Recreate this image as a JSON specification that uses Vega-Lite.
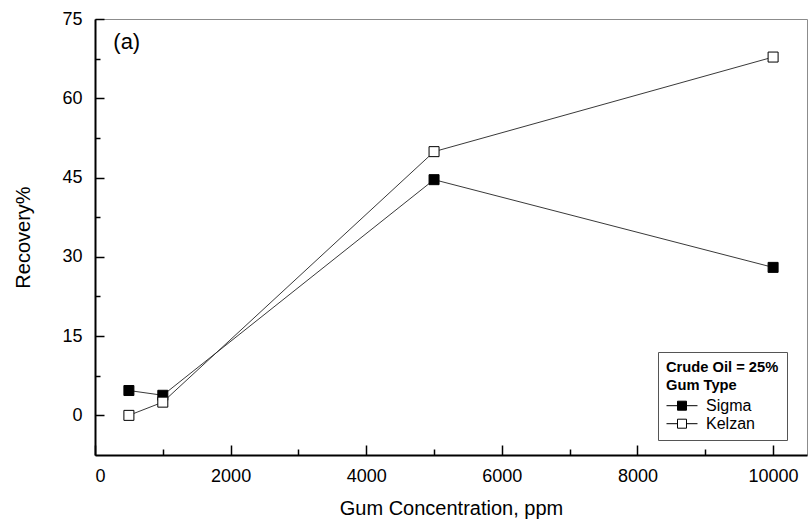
{
  "$schema": "https://vega.github.io/schema/vega-lite/v6.json",
  "width": 712,
  "height": 436,
  "autosize": "none",
  "padding": {"left": 95, "top": 19, "right": 2, "bottom": 70},
  "background": "white",
  "config": {
    "font": "Liberation Sans",
    "view": {"stroke": "#8c8c8c", "strokeWidth": 1}
  },
  "datasets": {
    "pts": [
      {"conc": 500, "rec": 4.7, "gum": "Sigma"},
      {"conc": 1000, "rec": 3.8, "gum": "Sigma"},
      {"conc": 5000, "rec": 44.6, "gum": "Sigma"},
      {"conc": 10000, "rec": 28.0, "gum": "Sigma"},
      {"conc": 500, "rec": 0.0, "gum": "Kelzan"},
      {"conc": 1000, "rec": 2.5, "gum": "Kelzan"},
      {"conc": 5000, "rec": 49.9, "gum": "Kelzan"},
      {"conc": 10000, "rec": 67.8, "gum": "Kelzan"}
    ],
    "note": [{"conc": 270, "rec": 70.6, "label": "(a)"}]
  },
  "layer": [
    {
      "data": {"name": "pts"},
      "mark": {"type": "line", "color": "#222", "strokeWidth": 0.9},
      "encoding": {
        "x": {
          "field": "conc", "type": "quantitative",
          "scale": {"domain": [0, 10500], "nice": false, "zero": false},
          "axis": {
            "title": "Gum Concentration, ppm",
            "values": [0, 1000, 2000, 3000, 4000, 5000, 6000, 7000, 8000, 9000, 10000],
            "format": "d",
            "labelExpr": "datum.value % 2000 == 0 ? datum.label : ''",
            "grid": false,
            "domainColor": "black", "domainWidth": 2,
            "tickColor": "black", "tickWidth": 1.5,
            "tickSize": {"condition": {"test": "datum.value % 2000 == 0", "value": -10}, "value": -6},
            "labelFontSize": 18, "labelColor": "black", "labelPadding": 22,
            "titleFontSize": 20, "titleFontWeight": "normal", "titleColor": "black", "titlePadding": 13
          }
        },
        "y": {
          "field": "rec", "type": "quantitative",
          "scale": {"domain": [-7.5, 75], "nice": false, "zero": false},
          "axis": {
            "title": "Recovery%",
            "values": [0, 7.5, 15, 22.5, 30, 37.5, 45, 52.5, 60, 67.5, 75],
            "labelExpr": "datum.value % 15 == 0 ? datum.label : ''",
            "grid": false,
            "domainColor": "black", "domainWidth": 2,
            "tickColor": "black", "tickWidth": 1.5,
            "tickSize": {"condition": {"test": "datum.value % 15 == 0", "value": -9}, "value": -5},
            "labelFontSize": 18, "labelColor": "black", "labelPadding": 22,
            "titleFontSize": 20, "titleFontWeight": "normal", "titleColor": "black", "titlePadding": 28
          }
        },
        "detail": {"field": "gum"}
      }
    },
    {
      "data": {"name": "pts"},
      "mark": {"type": "point", "shape": "square", "size": 100, "stroke": "black", "strokeWidth": 1, "opacity": 1, "fillOpacity": 1},
      "encoding": {
        "x": {"field": "conc", "type": "quantitative"},
        "y": {"field": "rec", "type": "quantitative"},
        "fill": {
          "field": "gum", "type": "nominal",
          "scale": {"domain": ["Sigma", "Kelzan"], "range": ["black", "white"]},
          "legend": {
            "title": ["Crude Oil = 25%", "Gum Type"],
            "orient": "none", "legendX": 563, "legendY": 333,
            "strokeColor": "#555", "fillColor": "white", "padding": 8,
            "titleFontSize": 14.7, "titleFontWeight": "bold", "titleColor": "black", "titleLineHeight": 18, "titlePadding": 3,
            "labelFontSize": 16, "labelColor": "black", "labelOffset": 20,
            "symbolType": "M-1,0H0.158M1.105,0H2.263M0.158,-0.474H1.105V0.474H0.158Z",
            "symbolSize": 361, "symbolStrokeColor": "black", "symbolStrokeWidth": 1,
            "rowPadding": 0
          }
        }
      }
    },
    {
      "data": {"name": "note"},
      "mark": {"type": "text", "fontSize": 22, "align": "left", "baseline": "middle", "color": "black"},
      "encoding": {
        "x": {"field": "conc", "type": "quantitative"},
        "y": {"field": "rec", "type": "quantitative"},
        "text": {"field": "label"}
      }
    }
  ]
}
